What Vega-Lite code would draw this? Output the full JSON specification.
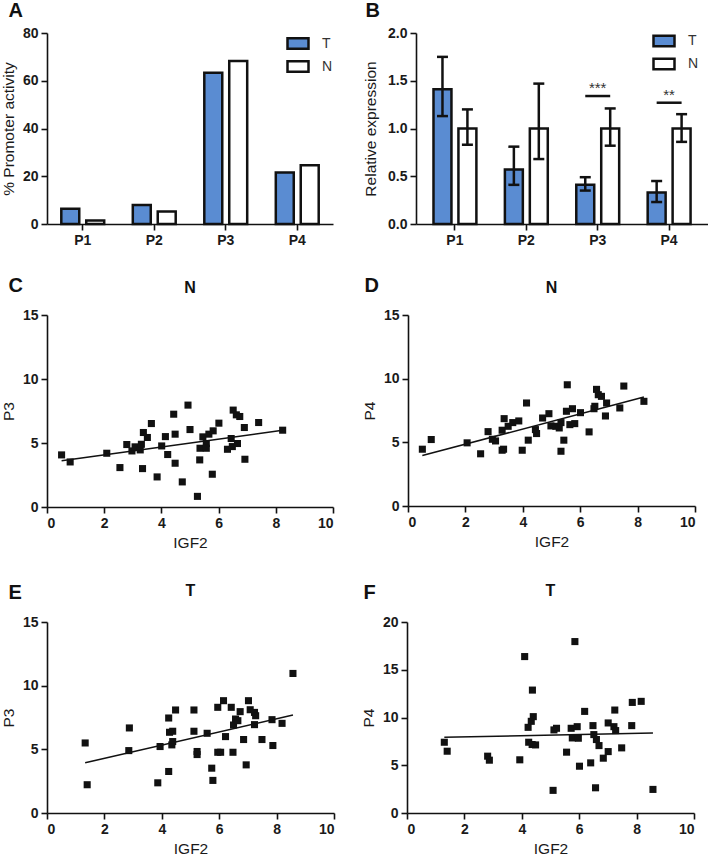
{
  "$schema": "https://vega.github.io/schema/vega-lite/v6.json",
  "padding": {"left": 1, "top": 1, "right": 0, "bottom": 0},
  "datasets": {
    "promoter": [
      {"p": "P1", "grp": "T", "v": 6.4}, {"p": "P1", "grp": "N", "v": 1.5},
      {"p": "P2", "grp": "T", "v": 8.0}, {"p": "P2", "grp": "N", "v": 5.2},
      {"p": "P3", "grp": "T", "v": 63.3}, {"p": "P3", "grp": "N", "v": 68.3},
      {"p": "P4", "grp": "T", "v": 21.6}, {"p": "P4", "grp": "N", "v": 24.6}
    ],
    "expr": [
      {"p": "P1", "grp": "T", "v": 1.41, "lo": 1.13, "hi": 1.75},
      {"p": "P1", "grp": "N", "v": 1.0, "lo": 0.83, "hi": 1.2},
      {"p": "P2", "grp": "T", "v": 0.57, "lo": 0.41, "hi": 0.81},
      {"p": "P2", "grp": "N", "v": 1.0, "lo": 0.68, "hi": 1.47},
      {"p": "P3", "grp": "T", "v": 0.41, "lo": 0.35, "hi": 0.49},
      {"p": "P3", "grp": "N", "v": 1.0, "lo": 0.82, "hi": 1.21},
      {"p": "P4", "grp": "T", "v": 0.33, "lo": 0.23, "hi": 0.45},
      {"p": "P4", "grp": "N", "v": 1.0, "lo": 0.86, "hi": 1.15}
    ],
    "sig": [
      {"p": "P3", "grp": "T", "y": 1.34}, {"p": "P3", "grp": "N", "y": 1.34},
      {"p": "P4", "grp": "T", "y": 1.27}, {"p": "P4", "grp": "N", "y": 1.27}
    ],
    "stars": [
      {"p": "P3", "y": 1.37, "t": "***"},
      {"p": "P4", "y": 1.3, "t": "**"}
    ],
    "c": [
      {"x": 0.51, "y": 4.07}, {"x": 0.81, "y": 3.52}, {"x": 2.09, "y": 4.2}, {"x": 2.55, "y": 3.08},
      {"x": 2.79, "y": 4.88}, {"x": 2.97, "y": 4.38}, {"x": 3.08, "y": 4.7}, {"x": 3.26, "y": 4.46},
      {"x": 3.3, "y": 4.9}, {"x": 3.34, "y": 3.0}, {"x": 3.37, "y": 5.82}, {"x": 3.51, "y": 5.43},
      {"x": 3.65, "y": 6.52}, {"x": 3.85, "y": 2.35}, {"x": 4.01, "y": 4.77}, {"x": 4.14, "y": 5.5},
      {"x": 4.22, "y": 4.1}, {"x": 4.43, "y": 7.25}, {"x": 4.48, "y": 5.69}, {"x": 4.48, "y": 3.42},
      {"x": 4.73, "y": 1.96}, {"x": 4.93, "y": 7.96}, {"x": 5.0, "y": 6.05}, {"x": 5.26, "y": 0.83},
      {"x": 5.34, "y": 3.68}, {"x": 5.35, "y": 4.59}, {"x": 5.45, "y": 5.48}, {"x": 5.57, "y": 4.96},
      {"x": 5.57, "y": 4.59}, {"x": 5.66, "y": 5.69}, {"x": 5.78, "y": 2.56}, {"x": 5.81, "y": 5.95},
      {"x": 6.01, "y": 6.55}, {"x": 6.31, "y": 4.51}, {"x": 6.44, "y": 5.35}, {"x": 6.48, "y": 4.72},
      {"x": 6.51, "y": 7.57}, {"x": 6.62, "y": 7.2}, {"x": 6.74, "y": 7.07}, {"x": 6.66, "y": 4.96},
      {"x": 6.9, "y": 6.21}, {"x": 6.92, "y": 3.73}, {"x": 7.4, "y": 6.6}, {"x": 8.24, "y": 6.0}
    ],
    "d": [
      {"x": 0.5, "y": 4.46}, {"x": 0.81, "y": 5.22}, {"x": 2.06, "y": 4.96}, {"x": 2.53, "y": 4.1},
      {"x": 2.79, "y": 5.84}, {"x": 2.94, "y": 5.24}, {"x": 3.05, "y": 5.11}, {"x": 3.28, "y": 5.95},
      {"x": 3.28, "y": 4.38}, {"x": 3.33, "y": 4.46}, {"x": 3.35, "y": 6.86}, {"x": 3.49, "y": 6.26},
      {"x": 3.65, "y": 6.55}, {"x": 3.86, "y": 6.68}, {"x": 3.98, "y": 4.38}, {"x": 4.13, "y": 8.09},
      {"x": 4.19, "y": 5.17}, {"x": 4.44, "y": 6.0}, {"x": 4.48, "y": 5.69}, {"x": 4.69, "y": 6.91},
      {"x": 4.91, "y": 7.25}, {"x": 4.98, "y": 6.29}, {"x": 5.15, "y": 6.26}, {"x": 5.27, "y": 6.13},
      {"x": 5.33, "y": 6.55}, {"x": 5.33, "y": 4.3}, {"x": 5.43, "y": 5.17}, {"x": 5.52, "y": 7.44},
      {"x": 5.55, "y": 9.52}, {"x": 5.64, "y": 6.39}, {"x": 5.73, "y": 7.64}, {"x": 5.81, "y": 6.47},
      {"x": 6.01, "y": 7.33}, {"x": 6.31, "y": 5.82}, {"x": 6.48, "y": 7.64}, {"x": 6.51, "y": 7.83},
      {"x": 6.57, "y": 9.16}, {"x": 6.63, "y": 8.74}, {"x": 6.74, "y": 8.61}, {"x": 6.88, "y": 7.07},
      {"x": 6.92, "y": 8.09}, {"x": 7.38, "y": 7.7}, {"x": 7.52, "y": 9.42}, {"x": 8.22, "y": 8.22}
    ],
    "e": [
      {"x": 1.33, "y": 5.5}, {"x": 1.4, "y": 2.22}, {"x": 2.85, "y": 4.9}, {"x": 2.87, "y": 6.68},
      {"x": 3.86, "y": 2.37}, {"x": 3.94, "y": 5.22}, {"x": 4.24, "y": 7.46}, {"x": 4.24, "y": 3.26},
      {"x": 4.27, "y": 6.34}, {"x": 4.38, "y": 6.42}, {"x": 4.35, "y": 5.35}, {"x": 4.38, "y": 5.61},
      {"x": 4.48, "y": 8.09}, {"x": 5.12, "y": 8.09}, {"x": 5.12, "y": 6.42}, {"x": 5.23, "y": 4.83},
      {"x": 5.23, "y": 4.59}, {"x": 5.58, "y": 6.26}, {"x": 5.74, "y": 3.52}, {"x": 5.78, "y": 2.56},
      {"x": 5.95, "y": 8.3}, {"x": 5.95, "y": 4.77}, {"x": 6.05, "y": 4.77}, {"x": 6.15, "y": 8.82},
      {"x": 6.22, "y": 6.0}, {"x": 6.42, "y": 8.3}, {"x": 6.48, "y": 4.77}, {"x": 6.5, "y": 6.91},
      {"x": 6.57, "y": 7.38}, {"x": 6.65, "y": 7.25}, {"x": 6.73, "y": 7.96}, {"x": 6.85, "y": 5.77},
      {"x": 6.94, "y": 3.78}, {"x": 7.02, "y": 8.82}, {"x": 7.08, "y": 8.11}, {"x": 7.23, "y": 7.9},
      {"x": 7.27, "y": 7.64}, {"x": 7.23, "y": 6.94}, {"x": 7.49, "y": 5.77}, {"x": 7.84, "y": 7.33},
      {"x": 7.87, "y": 5.3}, {"x": 8.19, "y": 7.04}, {"x": 8.57, "y": 10.96}
    ],
    "f": [
      {"x": 1.3, "y": 7.41}, {"x": 1.4, "y": 6.47}, {"x": 2.81, "y": 5.95}, {"x": 2.87, "y": 5.53},
      {"x": 3.93, "y": 5.57}, {"x": 4.1, "y": 16.38}, {"x": 4.22, "y": 8.97}, {"x": 4.24, "y": 7.41},
      {"x": 4.33, "y": 9.6}, {"x": 4.37, "y": 12.87}, {"x": 4.4, "y": 10.09}, {"x": 4.36, "y": 7.17},
      {"x": 4.48, "y": 7.13}, {"x": 5.09, "y": 2.37}, {"x": 5.12, "y": 8.7}, {"x": 5.21, "y": 8.87},
      {"x": 5.56, "y": 6.37}, {"x": 5.72, "y": 8.87}, {"x": 5.76, "y": 7.86}, {"x": 5.85, "y": 17.95},
      {"x": 5.93, "y": 9.04}, {"x": 5.97, "y": 7.83}, {"x": 6.01, "y": 4.9}, {"x": 6.19, "y": 10.64},
      {"x": 6.4, "y": 5.25}, {"x": 6.48, "y": 9.15}, {"x": 6.51, "y": 8.21}, {"x": 6.57, "y": 2.64},
      {"x": 6.6, "y": 7.69}, {"x": 6.69, "y": 7.06}, {"x": 6.84, "y": 5.74}, {"x": 7.01, "y": 6.43},
      {"x": 7.01, "y": 9.43}, {"x": 7.21, "y": 9.04}, {"x": 7.24, "y": 10.78}, {"x": 7.27, "y": 8.63},
      {"x": 7.48, "y": 6.82}, {"x": 7.83, "y": 9.15}, {"x": 7.85, "y": 11.58}, {"x": 8.16, "y": 11.69},
      {"x": 8.57, "y": 2.47}
    ]
  },
  "vconcat": [
    {
      "spacing": 30,
      "resolve": {"scale": {"color": "independent"}, "legend": {"color": "independent"}},
      "hconcat": [
        {
          "title": {"text": "A", "anchor": "start", "frame": "bounds", "fontSize": 20, "offset": 5, "dx": 7},
          "width": 286,
          "height": 191,
          "data": {"name": "promoter"},
          "mark": {"type": "bar", "stroke": "#111", "strokeWidth": 2.5},
          "encoding": {
            "x": {"field": "p", "type": "nominal", "scale": {"paddingInner": 0.4, "paddingOuter": 0.2}, "axis": {"title": null, "labelAngle": 0}},
            "xOffset": {"field": "grp", "type": "nominal", "scale": {"domain": ["T", "N"], "paddingInner": 0.28, "paddingOuter": 0}},
            "y": {"field": "v", "type": "quantitative", "scale": {"domain": [0, 80]}, "axis": {"values": [0, 20, 40, 60, 80], "title": "% Promoter activity", "titlePadding": 6}},
            "color": {
              "field": "grp", "type": "nominal",
              "scale": {"domain": ["T", "N"], "range": ["#5a8cd2", "#ffffff"]},
              "legend": {"title": null, "orient": "none", "legendX": 239, "legendY": -1.5, "symbolType": "M-1,-0.5H1V0.5H-1Z", "symbolSize": 441, "symbolStrokeColor": "#111", "symbolStrokeWidth": 2.5, "symbolOpacity": 1, "labelFontSize": 14, "labelOffset": 12, "labelColor": "#333", "rowPadding": 0, "padding": 0}
            }
          }
        },
        {
          "title": {"text": "B", "anchor": "start", "frame": "bounds", "fontSize": 20, "offset": 5, "dx": 2},
          "width": 292,
          "height": 191,
          "encoding": {
            "x": {"field": "p", "type": "nominal", "scale": {"paddingInner": 0.4, "paddingOuter": 0.245, "align": 0.5}, "axis": {"title": null, "labelAngle": 0}}
          },
          "layer": [
            {
              "data": {"name": "expr"},
              "mark": {"type": "bar", "stroke": "#111", "strokeWidth": 2.5},
              "encoding": {
                "xOffset": {"field": "grp", "type": "nominal", "scale": {"domain": ["T", "N"], "paddingInner": 0.28, "paddingOuter": 0}},
                "y": {"field": "v", "type": "quantitative", "scale": {"domain": [0, 2]}, "axis": {"values": [0, 0.5, 1, 1.5, 2], "format": ".1f", "title": "Relative expression", "titlePadding": 9}},
                "color": {
                  "field": "grp", "type": "nominal",
                  "scale": {"domain": ["T", "N"], "range": ["#5a8cd2", "#ffffff"]},
                  "legend": {"title": null, "orient": "none", "legendX": 236, "legendY": -4, "symbolType": "M-1,-0.5H1V0.5H-1Z", "symbolSize": 441, "symbolStrokeColor": "#111", "symbolStrokeWidth": 2.5, "symbolOpacity": 1, "labelFontSize": 14, "labelOffset": 12, "labelColor": "#333", "rowPadding": 0, "padding": 0}
                }
              }
            },
            {
              "data": {"name": "expr"},
              "mark": {"type": "rule", "color": "#111", "strokeWidth": 2.5},
              "encoding": {
                "xOffset": {"field": "grp", "type": "nominal"},
                "y": {"field": "lo", "type": "quantitative"},
                "y2": {"field": "hi"}
              }
            },
            {
              "data": {"name": "expr"},
              "mark": {"type": "tick", "orient": "horizontal", "size": 11, "thickness": 2.5, "color": "#111", "opacity": 1},
              "encoding": {
                "xOffset": {"field": "grp", "type": "nominal"},
                "y": {"field": "hi", "type": "quantitative"}
              }
            },
            {
              "data": {"name": "expr"},
              "mark": {"type": "tick", "orient": "horizontal", "size": 11, "thickness": 2.5, "color": "#111", "opacity": 1},
              "encoding": {
                "xOffset": {"field": "grp", "type": "nominal"},
                "y": {"field": "lo", "type": "quantitative"}
              }
            },
            {
              "data": {"name": "sig"},
              "mark": {"type": "line", "color": "#111", "strokeWidth": 2.5},
              "encoding": {
                "xOffset": {"field": "grp", "type": "nominal"},
                "y": {"field": "y", "type": "quantitative"},
                "detail": {"field": "p"}
              }
            },
            {
              "data": {"name": "stars"},
              "mark": {"type": "text", "fontSize": 15, "color": "#333", "baseline": "alphabetic"},
              "encoding": {
                "y": {"field": "y", "type": "quantitative"},
                "text": {"field": "t"}
              }
            }
          ]
        }
      ]
    },
    {
      "spacing": 32,
      "vconcat": [
        {
          "spacing": 28,
          "hconcat": [
            {
              "title": {"text": "C", "anchor": "start", "frame": "bounds", "fontSize": 20, "offset": -16, "dx": 7},
              "vconcat": [
                {
                  "title": {"text": "N", "fontSize": 16, "anchor": "middle", "frame": "group", "offset": 12},
                  "width": 286,
                  "height": 192,
                  "data": {"name": "c"},
                  "encoding": {
                    "x": {"field": "x", "type": "quantitative", "scale": {"domain": [0, 10], "nice": false}, "axis": {"values": [0, 2, 4, 6, 8, 10], "title": "IGF2", "titlePadding": 5}},
                    "y": {"field": "y", "type": "quantitative", "scale": {"domain": [0, 15], "nice": false}, "axis": {"values": [0, 5, 10, 15], "title": "P3"}}
                  },
                  "layer": [
                    {"mark": {"type": "square", "size": 50, "color": "#111", "opacity": 1}},
                    {"transform": [{"regression": "y", "on": "x"}], "mark": {"type": "line", "color": "#111", "strokeWidth": 1.5}}
                  ]
                }
              ]
            },
            {
              "title": {"text": "D", "anchor": "start", "frame": "bounds", "fontSize": 20, "offset": -16, "dx": 2},
              "vconcat": [
                {
                  "title": {"text": "N", "fontSize": 16, "anchor": "middle", "frame": "group", "offset": 12},
                  "width": 287,
                  "height": 191,
                  "data": {"name": "d"},
                  "encoding": {
                    "x": {"field": "x", "type": "quantitative", "scale": {"domain": [0, 10], "nice": false}, "axis": {"values": [0, 2, 4, 6, 8, 10], "title": "IGF2", "titlePadding": 5}},
                    "y": {"field": "y", "type": "quantitative", "scale": {"domain": [0, 15], "nice": false}, "axis": {"values": [0, 5, 10, 15], "title": "P4"}}
                  },
                  "layer": [
                    {"mark": {"type": "square", "size": 50, "color": "#111", "opacity": 1}},
                    {"transform": [{"regression": "y", "on": "x"}], "mark": {"type": "line", "color": "#111", "strokeWidth": 1.5}}
                  ]
                }
              ]
            }
          ]
        },
        {
          "spacing": 26,
          "hconcat": [
            {
              "title": {"text": "E", "anchor": "start", "frame": "bounds", "fontSize": 20, "offset": -20, "dx": 7},
              "vconcat": [
                {
                  "title": {"text": "T", "fontSize": 16, "anchor": "middle", "frame": "group", "offset": 16},
                  "width": 287,
                  "height": 191,
                  "data": {"name": "e"},
                  "encoding": {
                    "x": {"field": "x", "type": "quantitative", "scale": {"domain": [0, 10], "nice": false}, "axis": {"values": [0, 2, 4, 6, 8, 10], "title": "IGF2", "titlePadding": 5}},
                    "y": {"field": "y", "type": "quantitative", "scale": {"domain": [0, 15], "nice": false}, "axis": {"values": [0, 5, 10, 15], "title": "P3"}}
                  },
                  "layer": [
                    {"mark": {"type": "square", "size": 50, "color": "#111", "opacity": 1}},
                    {"transform": [{"regression": "y", "on": "x"}], "mark": {"type": "line", "color": "#111", "strokeWidth": 1.5}}
                  ]
                }
              ]
            },
            {
              "title": {"text": "F", "anchor": "start", "frame": "bounds", "fontSize": 20, "offset": -20, "dx": 2},
              "vconcat": [
                {
                  "title": {"text": "T", "fontSize": 16, "anchor": "middle", "frame": "group", "offset": 16},
                  "width": 287,
                  "height": 191,
                  "data": {"name": "f"},
                  "encoding": {
                    "x": {"field": "x", "type": "quantitative", "scale": {"domain": [0, 10], "nice": false}, "axis": {"values": [0, 2, 4, 6, 8, 10], "title": "IGF2", "titlePadding": 5}},
                    "y": {"field": "y", "type": "quantitative", "scale": {"domain": [0, 20], "nice": false}, "axis": {"values": [0, 5, 10, 15, 20], "title": "P4"}}
                  },
                  "layer": [
                    {"mark": {"type": "square", "size": 50, "color": "#111", "opacity": 1}},
                    {"transform": [{"regression": "y", "on": "x"}], "mark": {"type": "line", "color": "#111", "strokeWidth": 1.5}}
                  ]
                }
              ]
            }
          ]
        }
      ]
    }
  ],
  "spacing": 29,
  "config": {
    "font": "Liberation Sans",
    "view": {"stroke": null},
    "axis": {
      "grid": false,
      "domainColor": "#111",
      "domainWidth": 1.6,
      "tickColor": "#111",
      "tickWidth": 1.6,
      "tickSize": 6,
      "labelFont": "Liberation Sans",
      "labelFontSize": 14,
      "labelFontWeight": "bold",
      "labelColor": "#1a1a1a",
      "labelPadding": 3,
      "titleFont": "Liberation Sans",
      "titleFontSize": 15.5,
      "titleFontWeight": "normal",
      "titleColor": "#1a1a1a",
      "titlePadding": 6
    },
    "title": {"color": "#111", "fontWeight": "bold", "font": "Liberation Sans"}
  }
}
